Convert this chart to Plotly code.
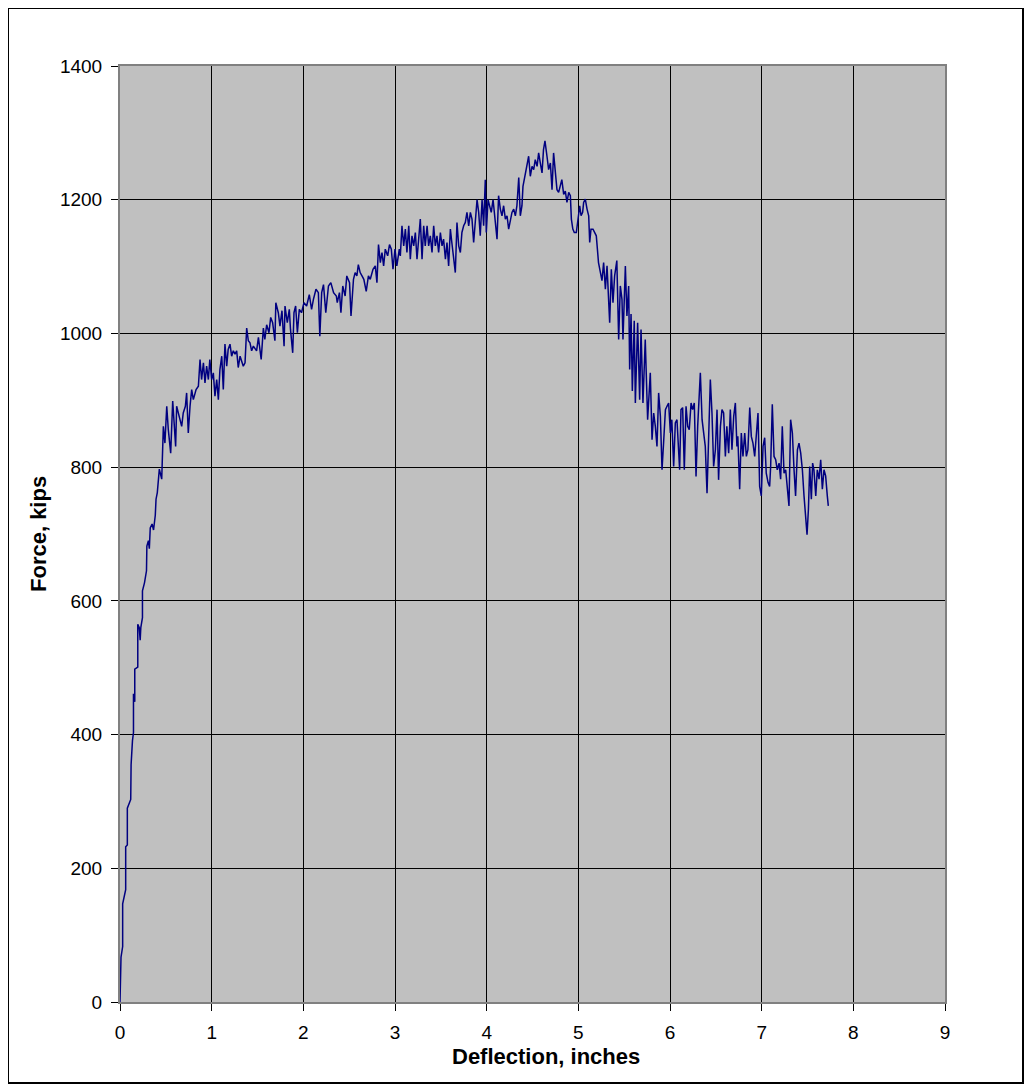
import plotly.graph_objects as go

# Deflection (inches) and Force (kips)
deflection = [
    0, 0.011, 0.029, 0.029, 0.062, 0.062, 0.08, 0.08, 0.117, 0.121, 0.136, 0.147, 0.147, 0.161, 0.161,
    0.194, 0.194, 0.21, 0.22, 0.227, 0.245, 0.245, 0.267, 0.289, 0.293, 0.31, 0.32, 0.33, 0.35, 0.366, 0.385,
    # 0.39 - 2.15
    0.393, 0.407, 0.429, 0.455, 0.465, 0.473, 0.49, 0.51, 0.527, 0.553, 0.575, 0.59, 0.607, 0.618, 0.647,
    0.673, 0.69, 0.713, 0.727, 0.745, 0.764, 0.782, 0.80, 0.83, 0.855, 0.873, 0.89, 0.91, 0.927, 0.945,
    0.964, 0.98, 1.0, 1.018, 1.036, 1.055, 1.073, 1.09, 1.11, 1.127, 1.145, 1.164, 1.18, 1.2, 1.218,
    1.236, 1.255, 1.273, 1.29, 1.31, 1.345, 1.364, 1.382, 1.4, 1.418, 1.436, 1.455, 1.49, 1.51, 1.54,
    1.564, 1.58, 1.6, 1.625, 1.644, 1.665, 1.69, 1.70, 1.727, 1.745, 1.767, 1.79, 1.8, 1.825, 1.847,
    1.86, 1.884, 1.898, 1.916, 1.935, 1.956, 1.98, 2.007, 2.036, 2.065, 2.09, 2.11, 2.138,
    # 2.15 - 3.05
    2.164, 2.18, 2.2, 2.22, 2.245, 2.274, 2.3, 2.33, 2.36, 2.37, 2.394, 2.41, 2.43, 2.456, 2.474,
    2.504, 2.52, 2.547, 2.565, 2.584, 2.6, 2.62, 2.64, 2.66, 2.686, 2.71, 2.73, 2.76, 2.785, 2.803,
    2.82, 2.84, 2.858, 2.876, 2.894, 2.92, 2.94, 2.96, 2.978, 3.0, 3.02, 3.047,
    # 3.05 - 4.77
    3.058, 3.076, 3.095, 3.113, 3.13, 3.15, 3.167, 3.185, 3.204, 3.222, 3.24, 3.258, 3.276, 3.295, 3.313,
    3.33, 3.35, 3.367, 3.385, 3.404, 3.422, 3.44, 3.458, 3.476, 3.495, 3.513, 3.53, 3.55, 3.567, 3.585,
    3.604, 3.62, 3.64, 3.658, 3.676, 3.695, 3.713, 3.73, 3.749, 3.767, 3.785, 3.804, 3.822, 3.84, 3.858,
    3.876, 3.895, 3.913, 3.93, 3.95, 3.967, 3.985, 3.996, 4.015, 4.033, 4.05, 4.07, 4.087, 4.113, 4.13,
    4.149, 4.167, 4.185, 4.204, 4.222, 4.24, 4.258, 4.276, 4.295, 4.313, 4.33, 4.35, 4.367, 4.385, 4.396,
    4.42, 4.44, 4.458, 4.476, 4.495, 4.513, 4.53, 4.55, 4.567, 4.585, 4.604, 4.62, 4.636, 4.658, 4.676,
    4.695, 4.713, 4.73, 4.75, 4.767,
    # 4.78 - 5.2
    4.785, 4.804, 4.82, 4.84, 4.858, 4.876, 4.895, 4.913, 4.924, 4.94, 4.956, 4.978, 4.996, 5.015, 5.03,
    5.047, 5.058, 5.076, 5.095, 5.113, 5.124, 5.138, 5.16, 5.178, 5.196,
    # 5.2 - 5.8
    5.22, 5.258, 5.276, 5.295, 5.313, 5.342, 5.36, 5.378, 5.396, 5.42, 5.44, 5.458, 5.476, 5.487, 5.513,
    5.53, 5.549, 5.56, 5.575, 5.589, 5.61, 5.622, 5.647, 5.669, 5.684, 5.705, 5.73, 5.756, 5.785,
    # 5.8 - 6.73
    5.804, 5.822, 5.84, 5.858, 5.876, 5.895, 5.913, 5.93, 5.95, 5.967, 5.985, 6.004, 6.02, 6.04, 6.058,
    6.076, 6.095, 6.105, 6.12, 6.138, 6.156, 6.175, 6.193, 6.21, 6.23, 6.247, 6.265, 6.284, 6.302, 6.32,
    6.331, 6.35, 6.367, 6.385, 6.404, 6.42, 6.44, 6.458, 6.476, 6.495, 6.513, 6.53, 6.55, 6.567, 6.585,
    6.604, 6.62, 6.64, 6.658, 6.676, 6.695, 6.713, 6.73,
    # 6.74 - 7.73
    6.74, 6.76, 6.778, 6.796, 6.815, 6.833, 6.85, 6.87, 6.887, 6.905, 6.924, 6.942, 6.96, 6.978, 6.996,
    7.015, 7.033, 7.05, 7.07, 7.087, 7.098, 7.116, 7.135, 7.153, 7.17, 7.19, 7.207, 7.225, 7.244, 7.262,
    7.28, 7.298, 7.316, 7.335, 7.353, 7.37, 7.39, 7.407, 7.426, 7.444, 7.462, 7.48, 7.495, 7.51, 7.524,
    7.542, 7.556, 7.57, 7.59, 7.607, 7.626, 7.644, 7.662, 7.68, 7.698, 7.716, 7.727,
]

force = [
    0, 67, 83, 147, 168, 232, 235, 290, 303, 355, 391, 403, 461, 449, 498,
    501, 565, 560, 541, 560, 575, 615, 627, 645, 682, 690, 678, 709, 715, 706, 728,
    # 0.39 - 2.15
    752, 762, 797, 782, 814, 861, 836, 891, 856, 821, 899, 861, 831, 891, 876,
    861, 881, 891, 911, 851, 891, 916, 901, 916, 921, 961, 931, 956, 926, 951,
    931, 961, 931, 941, 906, 931, 901, 946, 966, 916, 984, 951, 976, 984, 966,
    974, 969, 974, 949, 966, 951, 956, 1008, 989, 986, 974, 981, 974, 994, 961,
    1008, 991, 1013, 1001, 1024, 1016, 989, 1046, 1031, 1011, 1034, 981, 1041, 1016, 1036,
    1006, 971, 1031, 1041, 1001, 1036, 1031, 1046, 1041, 1058, 1036, 1051, 1066,
    # 2.15 - 3.05
    1061, 996, 1061, 1073, 1031, 1071, 1076, 1061, 1056, 1046, 1061, 1031, 1071, 1056, 1086,
    1076, 1026, 1081, 1091, 1086, 1103, 1091, 1086, 1081, 1063, 1086, 1081, 1096, 1101, 1076,
    1133, 1106, 1121, 1101, 1126, 1116, 1133, 1126, 1096, 1126, 1101, 1126,
    # 3.05 - 4.77
    1116, 1161, 1131, 1156, 1121, 1161, 1111, 1146, 1131, 1151, 1111, 1141, 1171, 1111, 1161,
    1131, 1161, 1131, 1146, 1121, 1161, 1131, 1146, 1121, 1151, 1131, 1141, 1111, 1136, 1101,
    1156, 1136, 1106, 1091, 1166, 1131, 1121, 1151, 1161, 1166, 1181, 1161, 1181, 1171, 1136,
    1171, 1200, 1181, 1146, 1200, 1161, 1230, 1151, 1200, 1191, 1181, 1200, 1176, 1141, 1206,
    1186, 1176, 1191, 1171, 1176, 1156, 1171, 1181, 1186, 1176, 1191, 1233, 1176, 1191, 1220,
    1240, 1255, 1265, 1235, 1250, 1245, 1260, 1250, 1270, 1255, 1240, 1275, 1288, 1265, 1245,
    1255, 1215, 1270, 1240, 1215,
    # 4.78 - 5.2
    1211, 1220, 1230, 1208, 1213, 1196, 1211, 1206, 1171, 1156, 1151, 1151, 1176, 1191, 1176,
    1181, 1196, 1201, 1186, 1176, 1136, 1156, 1156, 1151, 1146,
    # 5.2 - 5.8
    1106, 1079, 1106, 1066, 1101, 1016, 1096, 1046, 1086, 1109, 991, 1071, 1051, 991, 1101,
    1026, 1071, 946, 1029, 914, 1019, 896, 1016, 901, 1006, 896, 991, 871, 941,
    # 5.8 - 6.73
    841, 881, 861, 831, 911, 876, 796, 836, 886, 891, 896, 851, 871, 801, 866,
    871, 821, 796, 886, 889, 796, 891, 861, 856, 896, 886, 896, 786, 861, 911,
    941, 871, 851, 831, 761, 831, 931, 881, 801, 826, 886, 781, 861, 886, 881,
    816, 861, 821, 886, 826, 876, 896, 831,
    # 6.74 - 7.73
    846, 767, 851, 816, 851, 816, 826, 889, 846, 836, 816, 856, 881, 771, 757,
    831, 844, 791, 777, 771, 801, 894, 816, 811, 796, 806, 782, 861, 791, 796,
    771, 742, 871, 851, 796, 757, 826, 836, 821, 796, 757, 727, 699, 737, 801,
    752, 806, 796, 757, 796, 782, 811, 767, 796, 787, 757, 742,
]

x_ticks = [0, 1, 2, 3, 4, 5, 6, 7, 8, 9]
y_ticks = [0, 200, 400, 600, 800, 1000, 1200, 1400]
x_title = "Deflection, inches"
y_title = "Force, kips"

FONT = "Liberation Sans, Arial, sans-serif"

fig = go.Figure()
fig.add_trace(go.Scatter(
    x=deflection, y=force, mode="lines",
    line=dict(color="#000080", width=1.5),
    hoverinfo="skip", showlegend=False,
))

# page body has an 8px default margin; figure is offset by it
W, H = 1016, 1076
L, T = 112, 58
pw, ph = 825, 936
R, B = W - L - pw, H - T - ph


def px_x(px):  # figure pixel -> paper x
    return (px - L) / pw


def px_y(py):  # figure pixel -> paper y
    return (H - B - py) / ph


axis_common = dict(
    showgrid=True, gridcolor="#000000", gridwidth=1,
    zeroline=False, showline=True, linecolor="#808080", linewidth=2,
    mirror=True, ticks="outside", ticklen=7, tickwidth=1, tickcolor="#000000",
    tickfont=dict(family=FONT, size=19, color="#000000"),
    ticklabelstandoff=5,
)

fig.update_layout(
    width=W, height=H,
    margin=dict(l=L, r=R, t=T, b=B, pad=0),
    paper_bgcolor="#FFFFFF", plot_bgcolor="#C0C0C0",
    font=dict(family=FONT, color="#000000"),
    xaxis=dict(range=[0, 9], tickvals=x_ticks, ticktext=[str(v) for v in x_ticks], **axis_common),
    yaxis=dict(range=[0, 1400], tickvals=y_ticks, ticktext=[str(v) for v in y_ticks], **axis_common),
    annotations=[
        dict(text="<b>" + x_title + "</b>", xref="paper", yref="paper",
             x=px_x(538), y=px_y(1048), xanchor="center", yanchor="middle",
             showarrow=False, font=dict(family=FONT, size=22, color="#000000")),
        dict(text="<b>" + y_title + "</b>", xref="paper", yref="paper",
             x=px_x(30), y=px_y(526), xanchor="center", yanchor="middle", textangle=-90,
             showarrow=False, font=dict(family=FONT, size=22, color="#000000")),
    ],
    shapes=[dict(
        type="rect", xref="paper", yref="paper",
        x0=px_x(0), x1=px_x(W - 1),
        y0=px_y(H - 1), y1=px_y(0),
        line=dict(color="#000000", width=2), fillcolor="rgba(0,0,0,0)", layer="below",
    )],
)

fig.write_html("out.html")
